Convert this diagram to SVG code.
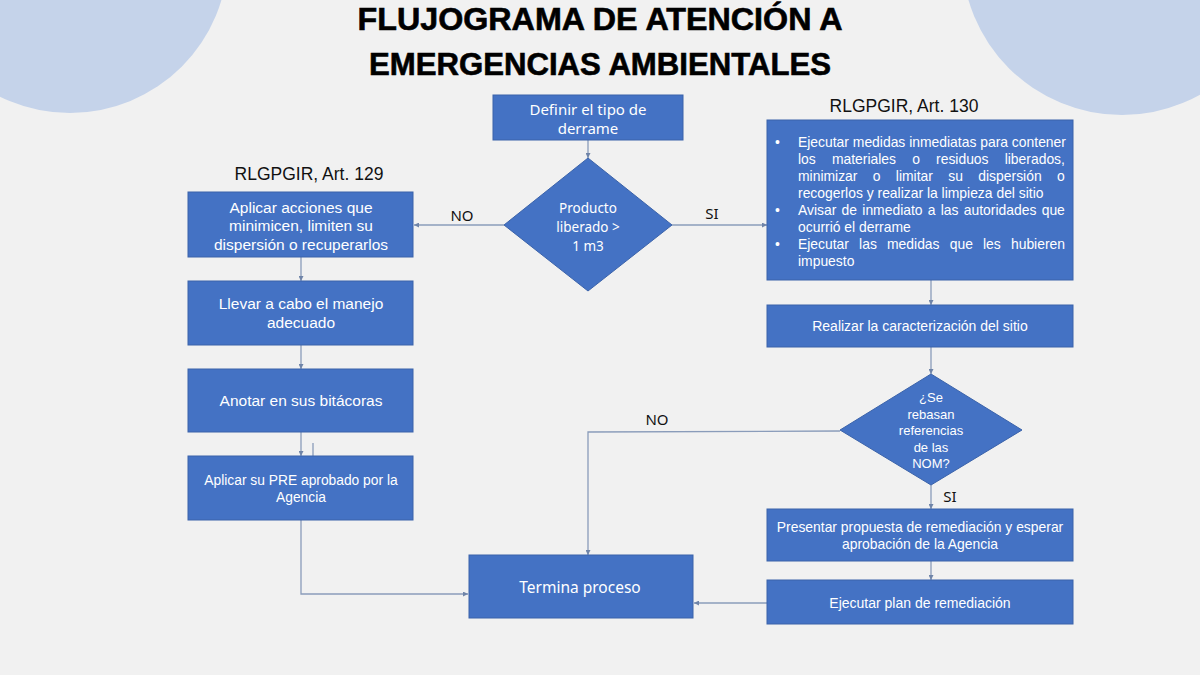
<svg xmlns="http://www.w3.org/2000/svg" width="1200" height="675" viewBox="0 0 1200 675">
<style>
.box{fill:#4472c4;stroke:#3b63aa;stroke-width:1}
.t{fill:#fff;font-family:"Liberation Sans",Arial,sans-serif;text-anchor:middle}
.c{fill:#fff;font-family:"Noto Sans","Open Sans",sans-serif;text-anchor:middle}
.lbl{fill:#111;font-family:"Noto Sans","Open Sans",sans-serif;font-size:15px}
.ref{fill:#111;font-family:"Liberation Sans",Arial,sans-serif;font-size:17.5px;text-anchor:middle}
.b{fill:#fff;font-family:"Liberation Sans",Arial,sans-serif;font-size:13.9px}
.ln{fill:none;stroke:#8a9cba;stroke-width:1.3}
</style>
<defs>
<marker id="ah" viewBox="0 0 10 10" refX="10" refY="5" markerWidth="5" markerHeight="5" orient="auto" markerUnits="userSpaceOnUse">
<path d="M0,0 L10,5 L0,10 z" fill="#6f84a8"/>
</marker>
</defs>
<rect width="1200" height="675" fill="#f1f1f1"/>
<circle cx="70" cy="-45" r="158" fill="#c5d3ea"/>
<circle cx="1122" cy="-45" r="160" fill="#c5d3ea"/>
<g id="title" fill="#000" stroke="#000" stroke-width="0.6" font-family="'Liberation Sans',Arial,sans-serif" font-weight="bold" font-size="31" text-anchor="middle">
<text x="600" y="30" textLength="485" lengthAdjust="spacingAndGlyphs">FLUJOGRAMA DE ATENCIÓN A</text>
<text x="600" y="75" textLength="462" lengthAdjust="spacingAndGlyphs">EMERGENCIAS AMBIENTALES</text>
</g>
<g id="connectors">
<line class="ln" x1="588" y1="140" x2="588" y2="158" marker-end="url(#ah)"/>
<line class="ln" x1="504" y1="225" x2="414" y2="225" marker-end="url(#ah)"/>
<line class="ln" x1="672" y1="225" x2="767" y2="225" marker-end="url(#ah)"/>
<line class="ln" x1="301" y1="257" x2="301" y2="281" marker-end="url(#ah)"/>
<line class="ln" x1="301" y1="345" x2="301" y2="369" marker-end="url(#ah)"/>
<line class="ln" x1="301" y1="432" x2="301" y2="456" marker-end="url(#ah)"/>
<line class="ln" x1="313" y1="443" x2="313" y2="456"/>
<polyline class="ln" points="301,520 301,594 468,594" marker-end="url(#ah)"/>
<line class="ln" x1="931" y1="280" x2="931" y2="305" marker-end="url(#ah)"/>
<line class="ln" x1="931" y1="347" x2="931" y2="374" marker-end="url(#ah)"/>
<polyline class="ln" points="840,431 588,432 588,555" marker-end="url(#ah)"/>
<line class="ln" x1="931" y1="485" x2="931" y2="509" marker-end="url(#ah)"/>
<line class="ln" x1="931" y1="561" x2="931" y2="580" marker-end="url(#ah)"/>
<line class="ln" x1="767" y1="603" x2="694" y2="603" marker-end="url(#ah)"/>
<text class="lbl" x="462" y="221" text-anchor="middle">NO</text>
<text class="lbl" x="712" y="219" text-anchor="middle">SI</text>
<text class="lbl" x="657" y="425" text-anchor="middle">NO</text>
<text class="lbl" x="950" y="502" text-anchor="middle">SI</text>
</g>
<g id="n-definir">
<rect class="box" x="493" y="95" width="190" height="45"/>
<text class="c" font-size="15" x="588" y="115">Definir el tipo de</text>
<text class="c" font-size="15" x="588" y="134">derrame</text>
</g>
<g id="n-producto">
<polygon class="box" points="588,158 672,225 588,291 504,225"/>
<text class="c" font-size="13.5" x="588" y="213">Producto</text>
<text class="c" font-size="13.5" x="588" y="232">liberado &gt;</text>
<text class="c" font-size="13.5" x="588" y="251">1 m3</text>
</g>
<g id="ref129"><text class="ref" x="309" y="180">RLGPGIR, Art. 129</text></g>
<g id="ref130"><text class="ref" x="904" y="112">RLGPGIR, Art. 130</text></g>
<g id="n-aplicar">
<rect class="box" x="188" y="192" width="225" height="65"/>
<text class="t" font-size="15.5" x="301" y="213">Aplicar acciones que</text>
<text class="t" font-size="15.5" x="301" y="231">minimicen, limiten su</text>
<text class="t" font-size="15.5" x="301" y="250">dispersión o recuperarlos</text>
</g>
<g id="n-llevar">
<rect class="box" x="188" y="281" width="225" height="64"/>
<text class="t" font-size="15.5" x="301" y="309">Llevar a cabo el manejo</text>
<text class="t" font-size="15.5" x="301" y="328">adecuado</text>
</g>
<g id="n-anotar">
<rect class="box" x="188" y="369" width="225" height="63"/>
<text class="t" font-size="15.5" x="301" y="406">Anotar en sus bitácoras</text>
</g>
<g id="n-pre">
<rect class="box" x="188" y="456" width="225" height="64"/>
<text class="t" font-size="13.8" x="301" y="485">Aplicar su PRE aprobado por la</text>
<text class="t" font-size="13.8" x="301" y="502">Agencia</text>
</g>
<g id="n-medidas">
<rect class="box" x="767" y="120" width="306" height="160"/>
<text class="b" x="775" y="147">•</text>
<text class="b" x="798" y="147">Ejecutar medidas inmediatas para contener</text>
<text class="b" x="798" y="164" word-spacing="12.3">los materiales o residuos liberados,</text>
<text class="b" x="798" y="181" word-spacing="11.5">minimizar o limitar su dispersión o</text>
<text class="b" x="798" y="198">recogerlos y realizar la limpieza del sitio</text>
<text class="b" x="775" y="215">•</text>
<text class="b" x="798" y="215" word-spacing="1.4">Avisar de inmediato a las autoridades que</text>
<text class="b" x="798" y="232">ocurrió el derrame</text>
<text class="b" x="775" y="249">•</text>
<text class="b" x="798" y="249" word-spacing="6.3">Ejecutar las medidas que les hubieren</text>
<text class="b" x="798" y="266">impuesto</text>
</g>
<g id="n-caracterizacion">
<rect class="box" x="767" y="305" width="306" height="42"/>
<text class="t" font-size="14" x="920" y="331">Realizar la caracterización del sitio</text>
</g>
<g id="n-nom">
<polygon class="box" points="931,374 1022,430 931,485 840,430"/>
<text class="t" font-size="13" x="931" y="402">¿Se</text>
<text class="t" font-size="13" x="931" y="419">rebasan</text>
<text class="t" font-size="13" x="931" y="435">referencias</text>
<text class="t" font-size="13" x="931" y="452">de las</text>
<text class="t" font-size="13" x="931" y="468">NOM?</text>
</g>
<g id="n-presentar">
<rect class="box" x="767" y="509" width="306" height="52"/>
<text class="t" font-size="13.9" x="920" y="532">Presentar propuesta de remediación y esperar</text>
<text class="t" font-size="13.9" x="920" y="549">aprobación de la Agencia</text>
</g>
<g id="n-ejecutar">
<rect class="box" x="767" y="580" width="306" height="44"/>
<text class="t" font-size="14" x="920" y="608">Ejecutar plan de remediación</text>
</g>
<g id="n-termina">
<rect class="box" x="469" y="555" width="224" height="63"/>
<text class="c" font-size="15.5" x="580" y="593">Termina proceso</text>
</g>
</svg>
